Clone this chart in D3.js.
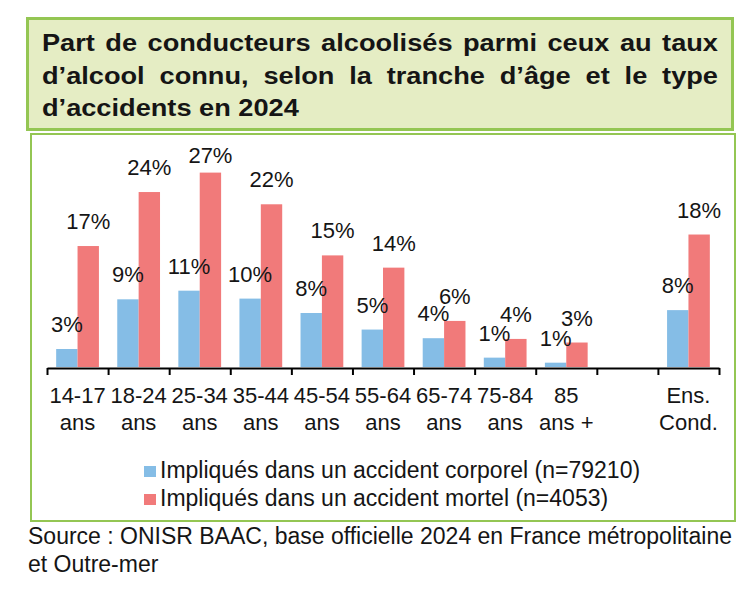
<!DOCTYPE html>
<html>
<head>
<meta charset="utf-8">
<script src="https://cdn.jsdelivr.net/npm/d3@7"></script>
<style>
	body { margin: 0; background: #fff; }
	text { font-family: "Liberation Sans", Arial, Helvetica, sans-serif; fill: #151515; }
</style>
</head>
<body>
<script>
//age groups (the blank one is the gap before the overall column)
let categories = ["14-17 ans", "18-24 ans", "25-34 ans", "35-44 ans", "45-54 ans", "55-64 ans", "65-74 ans", "75-84 ans", "85 ans +", " ", "Ens. Cond."];

//share of drunk drivers, in %
let corporel = [2.5, 9.4, 10.6, 9.5, 7.5, 5.2, 4.0, 1.3, 0.6, null, 7.9];
let mortel = [16.8, 24.3, 27.0, 22.6, 15.5, 13.8, 6.4, 3.9, 3.4, null, 18.4];

//labels printed above the bars
let corporelLabels = ["3%", "9%", "11%", "10%", "8%", "5%", "4%", "1%", "1%", "", "8%"];
let mortelLabels = ["17%", "24%", "27%", "22%", "15%", "14%", "6%", "4%", "3%", "", "18%"];

let seriesNames = ["Impliqués dans un accident corporel (n=79210)", "Impliqués dans un accident mortel (n=4053)"];
let colors = ["#85bde6", "#f17a7a"];

let titleLines = ["Part de conducteurs alcoolisés parmi ceux au taux", "d’alcool connu, selon la tranche d’âge et le type", "d’accidents en 2024"];
let sourceLines = ["Source : ONISR BAAC, base officielle 2024 en France métropolitaine", "et Outre-mer"];

let svg = d3.select("body").append("svg")
	.attr("width", 750)
	.attr("height", 591);

//title box and chart box
svg.append("rect")
	.attr("x", 27.5).attr("y", 18.5)
	.attr("width", 705).attr("height", 111)
	.attr("fill", "#e5edc4")
	.attr("stroke", "#94c653")
	.attr("stroke-width", 3);

svg.append("rect")
	.attr("x", 31).attr("y", 134)
	.attr("width", 704).attr("height", 387)
	.attr("fill", "#fff")
	.attr("stroke", "#94c653")
	.attr("stroke-width", 2);

//title, justified: words placed one by one, glyphs stretched a bit
let titleG = svg.append("g");
let titleY = [51.5, 84, 116.5];
let titleTexts = titleLines.map((line, i) => {
	let t = titleG.append("text")
		.attr("y", titleY[i])
		.attr("font-size", 24)
		.attr("font-weight", "bold")
		.attr("fill", "#111");
	line.split(" ").forEach(w => t.append("tspan").text(w));
	return t;
});

//measure the last line to get the stretch
let lastLine = titleTexts[2];
let lastTspans = lastLine.selectAll("tspan").nodes();
let spaceW = 24 * 0.278;
let lastW = d3.sum(lastTspans, n => n.getComputedTextLength()) + spaceW * (lastTspans.length - 1);
let sx = 257 / lastW;
titleG.attr("transform", `translate(42,0) scale(${sx},1)`);

titleTexts.forEach((t, i) => {
	let spans = t.selectAll("tspan").nodes();
	let widths = spans.map(n => n.getComputedTextLength());
	let gap = spaceW;
	if (i < 2) gap = (676 / sx - d3.sum(widths)) / (spans.length - 1); //justify
	let pos = 0;
	spans.forEach((n, j) => {
		d3.select(n).attr("x", pos);
		pos += widths[j] + gap;
	});
});

//scales
let x = d3.scaleBand()
	.domain(categories)
	.range([47, 719])
	.paddingInner(0.3)
	.paddingOuter(0.15);

let xSub = d3.scaleBand()
	.domain([0, 1])
	.range([0, x.bandwidth()]);

let y = d3.scaleLinear()
	.domain([0, 30])
	.range([367, 151]);

let labelTop = 163; //labels can't go above the plot area

let rows = categories.map((c, i) => ({
	cat: c,
	values: [
		{ s: 0, v: corporel[i], label: corporelLabels[i] },
		{ s: 1, v: mortel[i], label: mortelLabels[i] }
	].filter(d => d.v != null)
}));

let groups = svg.selectAll(".grp").data(rows).enter().append("g")
	.attr("class", "grp")
	.attr("transform", d => `translate(${x(d.cat)},0)`);

groups.selectAll("rect").data(d => d.values).enter().append("rect")
	.attr("x", d => xSub(d.s))
	.attr("y", d => y(d.v))
	.attr("width", xSub.bandwidth())
	.attr("height", d => y(0) - y(d.v))
	.attr("fill", d => colors[d.s]);

groups.selectAll(".lbl").data(d => d.values).enter().append("text")
	.attr("class", "lbl")
	.attr("x", d => xSub(d.s) + xSub.bandwidth() / 2)
	.attr("y", d => Math.max(y(d.v) - 17, labelTop))
	.attr("text-anchor", "middle")
	.attr("font-size", 22)
	.text(d => d.label);

//x axis, ticks between the groups
let xTicks = d3.scaleLinear()
	.domain([0, categories.length])
	.range([47, 719]);

let xAxis = d3.axisBottom(xTicks)
	.ticks(categories.length)
	.tickFormat("")
	.tickSize(7)
	.tickSizeOuter(0);

let xG = svg.append("g")
	.attr("transform", "translate(0,368)")
	.call(xAxis);
xG.select(".domain").attr("stroke", "#000").attr("stroke-width", 2);
xG.selectAll(".tick line").attr("stroke", "#000").attr("stroke-width", 2);

//category labels on two lines
let catLabels = svg.selectAll(".cat").data(categories).enter().append("text")
	.attr("class", "cat")
	.attr("text-anchor", "middle")
	.attr("font-size", 22);

catLabels.each(function(d) {
	let k = d.indexOf(" ");
	let parts = [d.slice(0, k), d.slice(k + 1)];
	let cx = x(d) + x.bandwidth() / 2;
	d3.select(this).selectAll("tspan").data(parts).enter().append("tspan")
		.attr("x", cx)
		.attr("y", (p, i) => 403 + i * 27)
		.text(p => p);
});

//legend
let legend = svg.selectAll(".leg").data(seriesNames).enter().append("g")
	.attr("class", "leg")
	.attr("transform", (d, i) => `translate(144, ${466 + i * 28})`);

legend.append("rect")
	.attr("width", 12)
	.attr("height", 11)
	.attr("fill", (d, i) => colors[i]);

legend.append("text")
	.attr("x", 16)
	.attr("y", 12)
	.attr("font-size", 23)
	.text(d => d);

//source
svg.selectAll(".src").data(sourceLines).enter().append("text")
	.attr("class", "src")
	.attr("x", 28)
	.attr("y", (d, i) => 544 + i * 28)
	.attr("font-size", 23)
	.text(d => d);
</script>
</body>
</html>
